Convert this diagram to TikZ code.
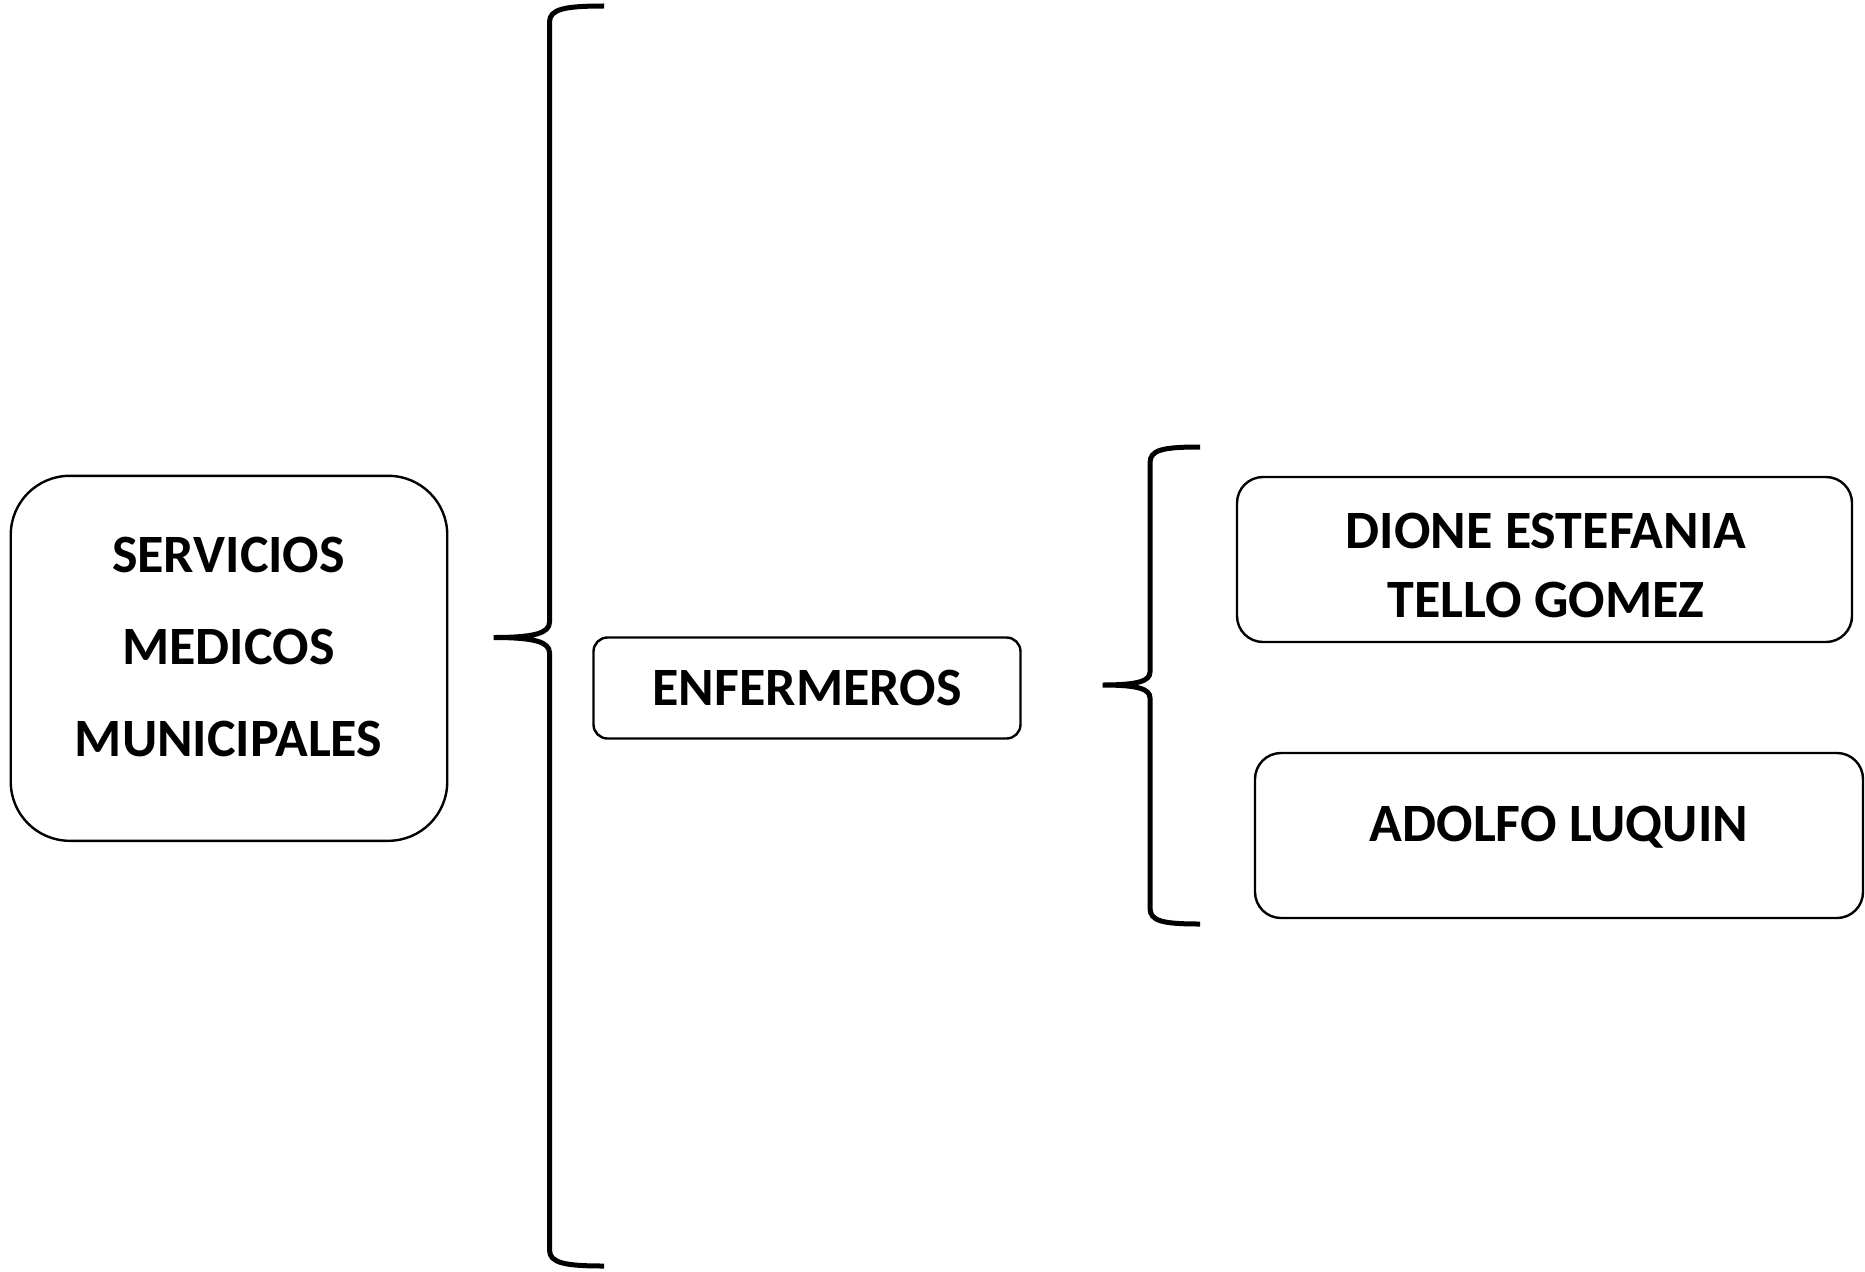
\documentclass[tikz,border=0pt]{standalone}
\usepackage{fontspec}
\setmainfont{Carlito}
\begin{document}
\begin{tikzpicture}[x=1pt,y=-1pt,
  box/.style={draw=black,line width=2.4pt,rectangle,inner sep=0pt},
  lbl/.style={font=\fontsize{54}{69}\selectfont\bfseries,align=center,inner sep=0pt},
  brace/.style={draw=black,line width=5pt,line cap=butt}]
\useasboundingbox (0,0) rectangle (1865,1271);
% boxes
\node[box,rounded corners=59pt,minimum width=436.5pt,minimum height=365pt] (smm) at (229,658.3) {};
\node[lbl,font=\fontsize{54}{92}\selectfont\bfseries] (smmt) at (228.5,647) {SERVICIOS\\MEDICOS\\MUNICIPALES};
\node[box,rounded corners=14pt,minimum width=427pt,minimum height=101pt] (enf) at (807,688) {};
\node[lbl] (enft) at (807,688) {ENFERMEROS};
\node[box,rounded corners=26pt,minimum width=615pt,minimum height=165pt] (dio) at (1544.5,559.5) {};
\node[lbl] (diot) at (1546,565) {DIONE ESTEFANIA\\TELLO GOMEZ};
\node[box,rounded corners=26pt,minimum width=608pt,minimum height=165pt] (ado) at (1559,835.5) {};
\node[lbl] (adot) at (1559,827) {ADOLFO LUQUIN};
% big brace
\coordinate (b1top) at (604,6);
\coordinate (b1bot) at (604,1266);
\coordinate (b1tip) at (493.6,637.5);
\draw[brace] (b1top) .. controls (565,6) and (549.5,9) .. (549.5,22)
  -- (549.5,622) .. controls (549.5,633) and (535,637.5) .. (b1tip)
  (b1tip) .. controls (535,637.5) and (549.5,642) .. (549.5,653)
  -- (549.5,1250) .. controls (549.5,1263) and (565,1266) .. (b1bot);
% small brace
\coordinate (b2top) at (1200,447);
\coordinate (b2bot) at (1200,924);
\coordinate (b2tip) at (1102.6,685);
\draw[brace] (b2top) .. controls (1162,447) and (1150,450) .. (1150,463)
  -- (1150,672) .. controls (1150,681) and (1138,685) .. (b2tip)
  (b2tip) .. controls (1138,685) and (1150,689) .. (1150,698)
  -- (1150,908) .. controls (1150,921) and (1162,924) .. (b2bot);
\end{tikzpicture}
\end{document}
